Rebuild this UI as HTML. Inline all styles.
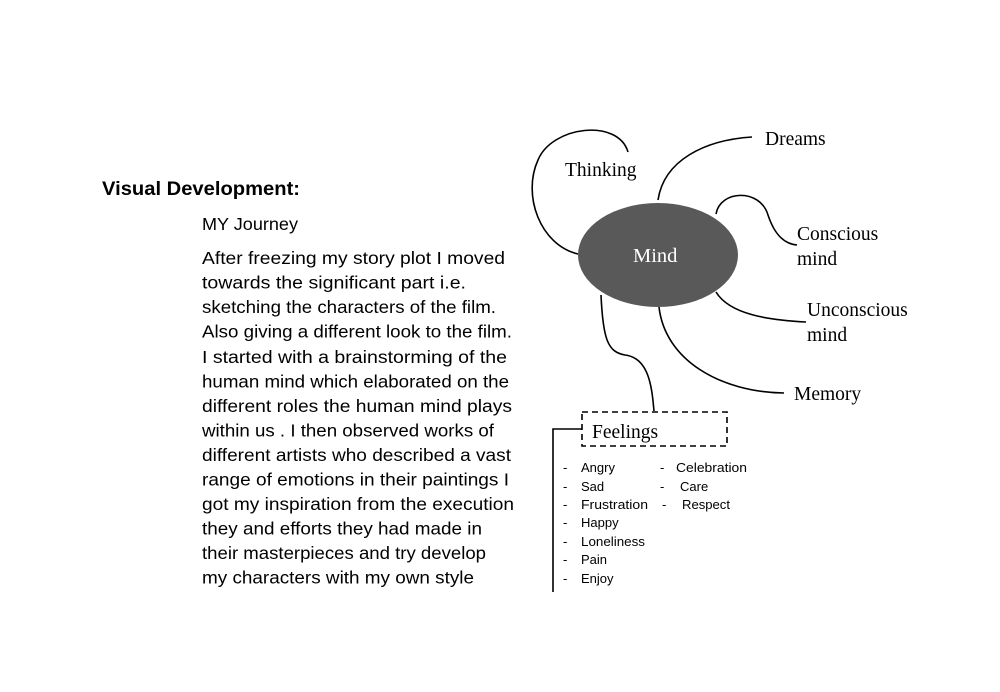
<!DOCTYPE html>
<html><head><meta charset="utf-8"><style>
html,body{margin:0;padding:0;background:#fff;}
svg{display:block;}
.c{font-family:"Liberation Sans",sans-serif;fill:#000;}
.s{font-family:"Liberation Serif",serif;fill:#000;}
</style></head><body>
<svg width="1000" height="692" viewBox="0 0 1000 692" xmlns="http://www.w3.org/2000/svg">
<g class="c">
<text x="102" y="195" font-size="19.5" font-weight="bold" textLength="198" lengthAdjust="spacingAndGlyphs">Visual Development:</text>
<g font-size="17.2">
<text x="202" y="230" textLength="96" lengthAdjust="spacingAndGlyphs">MY Journey</text>
<text x="202" y="264" textLength="303" lengthAdjust="spacingAndGlyphs">After freezing  my story plot I moved</text>
<text x="202" y="288.5" textLength="264" lengthAdjust="spacingAndGlyphs">towards the significant part i.e.</text>
<text x="202" y="313" textLength="294" lengthAdjust="spacingAndGlyphs">sketching the characters of the film.</text>
<text x="202" y="337.5" textLength="310" lengthAdjust="spacingAndGlyphs">Also giving a different look to the film.</text>
<text x="202" y="363" textLength="305" lengthAdjust="spacingAndGlyphs">I started with a brainstorming of  the</text>
<text x="202" y="387.5" textLength="307" lengthAdjust="spacingAndGlyphs">human mind which elaborated on the</text>
<text x="202" y="412" textLength="310" lengthAdjust="spacingAndGlyphs">different roles the human mind plays</text>
<text x="202" y="436.5" textLength="292" lengthAdjust="spacingAndGlyphs">within us . I then observed works of</text>
<text x="202" y="461" textLength="309" lengthAdjust="spacingAndGlyphs">different artists who described a vast</text>
<text x="202" y="485.5" textLength="307" lengthAdjust="spacingAndGlyphs">range of emotions in their paintings I</text>
<text x="202" y="510" textLength="312" lengthAdjust="spacingAndGlyphs">got my inspiration from the execution</text>
<text x="202" y="534.5" textLength="280" lengthAdjust="spacingAndGlyphs">they and efforts they had made in</text>
<text x="202" y="559" textLength="284" lengthAdjust="spacingAndGlyphs">their masterpieces and try develop</text>
<text x="202" y="583.5" textLength="272" lengthAdjust="spacingAndGlyphs">my characters with my own style</text>
</g>
<g font-size="13">
<text x="563" y="472">-</text><text x="581" y="472">Angry</text>
<text x="563" y="491">-</text><text x="581" y="491">Sad</text>
<text x="563" y="509">-</text><text x="581" y="509" textLength="67" lengthAdjust="spacingAndGlyphs">Frustration</text>
<text x="563" y="527">-</text><text x="581" y="527">Happy</text>
<text x="563" y="546">-</text><text x="581" y="546" textLength="64" lengthAdjust="spacingAndGlyphs">Loneliness</text>
<text x="563" y="564">-</text><text x="581" y="564">Pain</text>
<text x="563" y="583">-</text><text x="581" y="583">Enjoy</text>
<text x="660" y="472">-</text><text x="676" y="472" textLength="71" lengthAdjust="spacingAndGlyphs">Celebration</text>
<text x="660" y="491">-</text><text x="680" y="491">Care</text>
<text x="662" y="509">-</text><text x="682" y="509" textLength="48" lengthAdjust="spacingAndGlyphs">Respect</text>
</g>
</g>
<g fill="none" stroke="#000" stroke-width="1.6">
<path d="M578,254 C540,245 522,195 538,160 C552,126 618,118 628,152"/>
<path d="M658,200 C664,160 705,140 752,137"/>
<path d="M716,214 C720,190 760,188 768,215 C775,236 785,244 797,245"/>
<path d="M716,292 C730,315 770,320 806,322"/>
<path d="M659,307 C665,360 720,392 784,393"/>
<path d="M601,295 C603,340 608,352 625,355 C650,358 652,390 654,411"/>
<path d="M553,592 V429 H582"/>
</g>
<rect x="582" y="412" width="145" height="34" fill="none" stroke="#000" stroke-width="1.6" stroke-dasharray="6,4"/>
<ellipse cx="658" cy="255" rx="80" ry="52" fill="#595959"/>
<g class="s" font-size="19.5">
<text x="633" y="262" style="fill:#fff" font-size="20.5">Mind</text>
<text x="565" y="176">Thinking</text>
<text x="765" y="145">Dreams</text>
<text x="797" y="240">Conscious</text>
<text x="797" y="265">mind</text>
<text x="807" y="316">Unconscious</text>
<text x="807" y="341">mind</text>
<text x="794" y="400">Memory</text>
<text x="592" y="438">Feelings</text>
</g>
</svg>
</body></html>
